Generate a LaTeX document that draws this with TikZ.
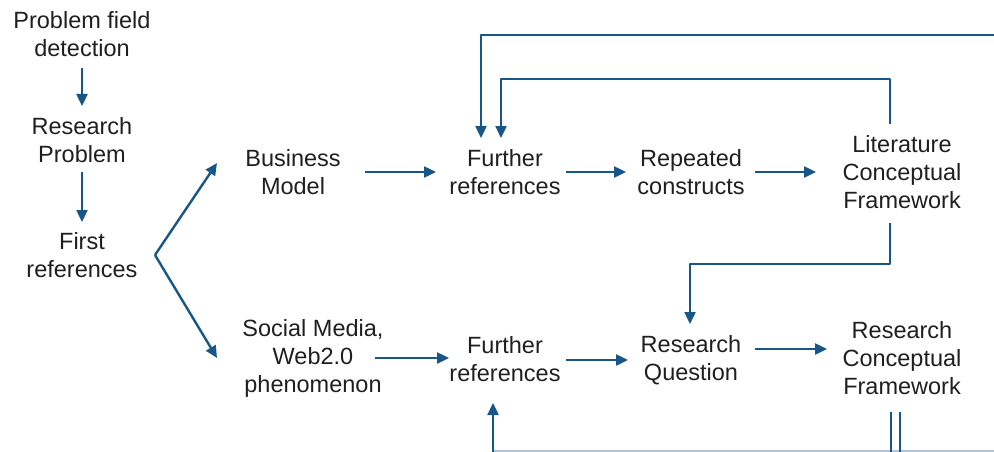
\documentclass[tikz,border=0pt]{standalone}
\usepackage{fontspec}
\setmainfont{Liberation Sans}
\usetikzlibrary{arrows.meta,calc}
\definecolor{flowblue}{RGB}{24,86,136}
\definecolor{faintblue}{RGB}{175,198,218}
\begin{document}
\begin{tikzpicture}[x=1pt,y=-1pt,
  txt/.style={align=center,inner sep=0pt,text=black!88,
    font=\fontsize{23.5}{28}\selectfont},
  flowline/.style={draw=flowblue,line width=2.4pt,line join=round},
  flowarrow/.style={flowline,-{Triangle[length=12pt,width=11pt]}}]
\useasboundingbox (0,0) rectangle (994,452);

% left column
\node[txt] (pfd) at (82,34)  {Problem field\\detection};
\node[txt] (rp)  at (82,140) {Research\\Problem};
\node[txt] (fr0) at (82,255) {First\\references};

% upper row
\node[txt] (bm)  at (293,172) {Business\\Model};
\node[txt] (fr1) at (505,172) {Further\\references};
\node[txt] (rc)  at (691,172) {Repeated\\constructs};
\node[txt] (lcf) at (902,172) {Literature\\Conceptual\\Framework};

% lower row
\node[txt] (smw) at (313,358) {Social Media,\\Web2.0\\phenomenon};
\node[txt] (fr2) at (505,359) {Further\\references};
\node[txt] (rq)  at (691,360) {Research\\Question};
\node[txt] (rcf) at (902,358) {Research\\Conceptual\\Framework};

% left column arrows
\draw[flowarrow] ($(pfd)+(0,34)$) -- ($(rp)+(0,-34)$);
\draw[flowarrow] ($(rp)+(0,32)$) -- ($(fr0)+(0,-33)$);

% branching from the first references
\coordinate (split) at ($(fr0)+(73,0)$);
\draw[flowarrow] (split) -- ($(bm)+(-76,-9)$);
\draw[flowarrow] (split) -- ($(smw)+(-96,0)$);

% upper row arrows
\draw[flowarrow] ($(bm)+(72,0)$)  -- ($(fr1)+(-69,0)$);
\draw[flowarrow] ($(fr1)+(61,0)$) -- ($(rc)+(-65,0)$);
\draw[flowarrow] ($(rc)+(64,0)$)  -- ($(lcf)+(-86,0)$);

% lower row arrows
\draw[flowarrow] ($(smw)+(62,0)$) -- ($(fr2)+(-56,-1)$);
\draw[flowarrow] ($(fr2)+(61,1)$) -- ($(rq)+(-63,0)$);
\draw[flowarrow] ($(rq)+(64,-11)$) -- ($(rcf)+(-75,-9)$);

% feedback loops
\draw[flowarrow] ($(lcf)+(-12,-48)$) |- ($(fr1)+(-4,-93)$) -- ($(fr1)+(-4,-34)$);
\coordinate (topin) at (994,35);
\draw[flowarrow] (topin) -| ($(fr1)+(-24,-34)$);
\draw[flowarrow] ($(lcf)+(-12,51)$) |- ($(rq)+(-1,-96)$) -- ($(rq)+(-1,-36)$);

% return line along the bottom
\coordinate (botin) at (994,451);
\draw[flowline,draw=faintblue,line width=1.2pt] (botin) -- ($(fr2)+(-12,92)$);
\draw[flowarrow] ($(fr2)+(-12,93)$) -- ($(fr2)+(-12,44)$);
\draw[flowline] ($(rcf)+(-11,54)$) -- ($(rcf)+(-11,94)$);
\draw[flowline] ($(rcf)+(-2,54)$) -- ($(rcf)+(-2,94)$);
\end{tikzpicture}
\end{document}
